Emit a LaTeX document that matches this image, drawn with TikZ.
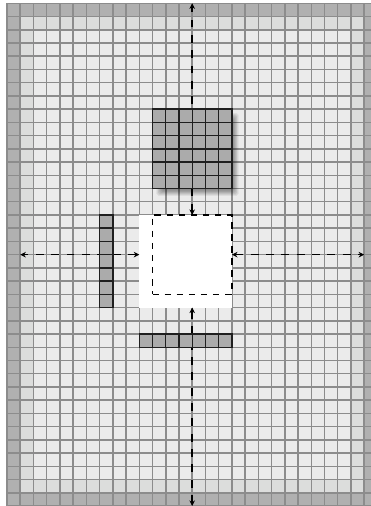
\documentclass[tikz,border=0pt]{standalone}
\usetikzlibrary{arrows.meta}
\definecolor{outergray}{HTML}{B0B0B0}
\definecolor{ringgray}{HTML}{DCDDDC}
\definecolor{innergray}{HTML}{EBEBEB}
\definecolor{linegray}{HTML}{8C8C8C}
\definecolor{cellgray}{HTML}{ABABAB}
\begin{document}
\begin{tikzpicture}[x=0.5cm,y=0.5cm,
  gridline/.style={draw=linegray, line width=1.6pt},
  cellline/.style={draw=black!88, line width=1.5pt},
  cellblock/.style={fill=cellgray, draw=black!88, line width=1.5pt, inner sep=0pt, outer sep=0pt},
  region/.style={fill=white, inner sep=0pt, outer sep=0pt, minimum size=3.5cm},
  window/.style={draw=black, line width=1.5pt, dash pattern=on 7pt off 6pt, inner sep=0pt, outer sep=0pt, minimum size=3cm},
  darrow/.style={draw=black, line width=1.6pt, dash pattern=on 8.5pt off 8pt, {Stealth[length=6pt,width=6pt]}-{Stealth[length=6pt,width=6pt]}}
]
\useasboundingbox (-0.53,0) rectangle (27.49,38.25);
% background rings
\fill[outergray] (0,0) rectangle (28,38);
\fill[ringgray] (1,1) rectangle (27,37);
\fill[innergray] (2,2) rectangle (26,36);
\foreach \i in {0,...,28} \draw[gridline] (\i,0) -- (\i,38);
\foreach \j in {0,...,38} \draw[gridline] (0,\j) -- (28,\j);
% free ends of the arrows
\coordinate (topend) at (14,38);
\coordinate (bottomend) at (14,0);
\coordinate (leftend) at (1,19);
\coordinate (rightend) at (27,19);
% white region and window
\node[region] (reg) at (13.5,18.5) {};
\node[window] (win) at (14,19) {};
% arrows
\draw[darrow] (win.north) -- (topend);
\draw[darrow] (win.center |- reg.south) -- (bottomend);
\draw[darrow] (reg.west |- win.center) -- (leftend);
\draw[darrow] (win.east) -- (rightend);
% bars
\node[cellblock, minimum width=0.5cm, minimum height=3.5cm] (vbar) at (7.5,18.5) {};
\foreach \i in {1,...,6} \draw[cellline] ([yshift=\i*0.5cm]vbar.south west) -- ([yshift=\i*0.5cm]vbar.south east);
\node[cellblock, minimum width=3.5cm, minimum height=0.5cm] (hbar) at (13.5,12.5) {};
\foreach \i in {1,...,6} \draw[cellline] ([xshift=\i*0.5cm]hbar.south west) -- ([xshift=\i*0.5cm]hbar.north west);
% shadow of the kernel
\foreach \k in {0,...,7}{
  \fill[black, opacity=0.06, rounded corners=2pt] (11.3+0.06*\k,23.45+0.06*\k) rectangle (17.5-0.06*\k,29.7-0.06*\k);
}
% kernel
\node[cellblock, minimum size=3cm] (kern) at (14,27) {};
\foreach \i in {1,...,5} {
  \draw[cellline] ([xshift=\i*0.5cm]kern.south west) -- ([xshift=\i*0.5cm]kern.north west);
  \draw[cellline] ([yshift=\i*0.5cm]kern.south west) -- ([yshift=\i*0.5cm]kern.south east);
}
\end{tikzpicture}
\end{document}
